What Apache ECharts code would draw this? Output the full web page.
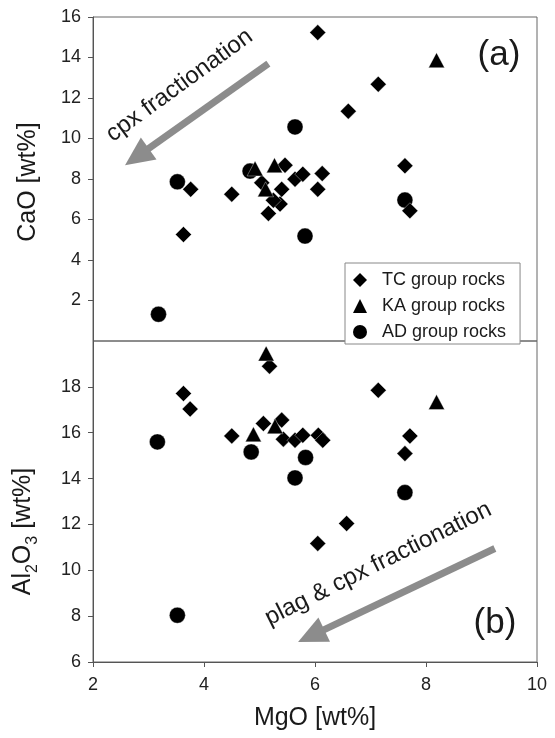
<!DOCTYPE html>
<html>
<head>
<meta charset="utf-8">
<script src="https://cdn.jsdelivr.net/npm/echarts@6/dist/echarts.min.js"></script>
<style>
  html, body { margin: 0; padding: 0; background: #fff; }
  #chart { width: 555px; height: 738px; }
</style>
</head>
<body>
<div id="chart"></div>
<script>
// ---- Panel (a): CaO vs MgO ----
const tcMgO_a  = [6.05, 6.6, 3.76, 3.63, 4.5, 5.46, 5.4, 5.37, 5.16, 5.64, 5.78, 6.13, 6.05, 7.14, 7.62, 7.71, 5.04, 5.25];
const tcCaO    = [15.23, 11.35, 7.49, 5.26, 7.25, 8.68, 7.49, 6.76, 6.3, 7.99, 8.24, 8.27, 7.49, 12.68, 8.65, 6.43, 7.81, 6.95];
const kaMgO_a  = [4.92, 5.27, 5.11, 8.19];
const kaCaO    = [8.52, 8.68, 7.49, 13.87];
const adMgO_a  = [4.83, 5.64, 3.52, 5.82, 3.18, 7.62];
const adCaO    = [8.39, 10.57, 7.86, 5.18, 1.32, 6.96];

// ---- Panel (b): Al2O3 vs MgO ----
const tcMgO_b  = [5.18, 3.63, 3.75, 4.5, 5.07, 5.4, 5.43, 5.64, 5.78, 6.06, 6.14, 6.57, 6.05, 7.14, 7.71, 7.62];
const tcAl2O3  = [18.9, 17.71, 17.03, 15.86, 16.4, 16.55, 15.72, 15.67, 15.89, 15.89, 15.67, 12.04, 11.17, 17.85, 15.86, 15.09];
const kaMgO_b  = [5.12, 4.89, 5.28, 8.19];
const kaAl2O3  = [19.46, 15.93, 16.28, 17.34];
const adMgO_b  = [3.16, 4.85, 5.83, 5.64, 3.52, 7.62];
const adAl2O3  = [15.6, 15.16, 14.92, 14.03, 8.04, 13.39];

// Axis ranges and tick steps
const xRange  = [2, 10, 2];
const caRange = [0, 16, 2];
const alRange = [6, 20, 2];

// Fractionation trend arrows: [tail, head] in data units
const cpxArrow  = [[5.16, 13.70], [2.79, 9.09]];
const plagArrow = [[9.24, 10.95], [5.93, 7.14]];
const cpxLabel  = { text: 'cpx fractionation', at: [3.56, 12.62], angle: 36 };
const plagLabel = { text: 'plag & cpx fractionation', at: [7.14, 10.28], angle: 26.5 };

const groupNames = ['TC group rocks', 'KA group rocks', 'AD group rocks'];

const FONT = 'Liberation Sans, Arial, Helvetica, sans-serif';
const INK = '#1a1a1a';
const AXIS = '#555';

const zip = (xs, ys) => xs.map((x, i) => [x, ys[i]]);

const mark = { color: '#000', opacity: 1, borderColor: 'rgba(255,255,255,0.6)', borderWidth: 0.6 };

function arrowLine(pair) {
  return {
    silent: true,
    symbol: ['none', 'triangle'],
    symbolSize: [27, 29],
    label: { show: false },
    lineStyle: { color: '#8c8c8c', width: 7, type: 'solid', opacity: 1 },
    itemStyle: { color: '#8c8c8c', opacity: 1 },
    emphasis: { disabled: true },
    data: [[{ coord: pair[0] }, { coord: pair[1] }]]
  };
}

function yAxisBase(range, grid) {
  return {
    type: 'value', gridIndex: grid,
    min: range[0], max: range[1], interval: range[2],
    splitLine: { show: false },
    axisLine: { show: true, lineStyle: { color: AXIS, width: 1 } },
    axisTick: { show: true, inside: false, length: 5, lineStyle: { color: AXIS } },
    axisLabel: { color: '#222', fontSize: 18, fontFamily: FONT, margin: 12 }
  };
}

const option = {
  animation: false,
  backgroundColor: '#fff',
  textStyle: { fontFamily: FONT },
  grid: [
    { left: 93, top: 17, width: 444, height: 324, show: true, borderColor: '#666', borderWidth: 1 },
    { left: 93, top: 341, width: 444, height: 321, show: true, borderColor: '#666', borderWidth: 1 }
  ],
  legend: {
    data: groupNames,
    orient: 'vertical',
    left: 345, top: 263,
    padding: [8, 14, 3, 8],
    itemGap: 8,
    itemWidth: 14, itemHeight: 14,
    borderColor: '#888', borderWidth: 1,
    backgroundColor: '#fff',
    selectedMode: false,
    itemStyle: { color: '#000', opacity: 1, borderWidth: 0 },
    textStyle: { fontSize: 18, color: INK, fontFamily: FONT, padding: [0, 0, 0, 10] },
    z: 10
  },
  xAxis: [
    {
      type: 'value', gridIndex: 0,
      min: xRange[0], max: xRange[1], interval: xRange[2],
      splitLine: { show: false },
      axisLine: { show: false }, axisTick: { show: false }, axisLabel: { show: false }
    },
    {
      type: 'value', gridIndex: 1,
      min: xRange[0], max: xRange[1], interval: xRange[2],
      splitLine: { show: false },
      axisLine: { show: true, onZero: false, lineStyle: { color: AXIS, width: 1 } },
      axisTick: { show: true, inside: false, length: 5, lineStyle: { color: AXIS } },
      axisLabel: { color: '#222', fontSize: 18, fontFamily: FONT, margin: 14 },
      name: 'MgO [wt%]', nameLocation: 'middle', nameGap: 44,
      nameTextStyle: { fontSize: 25, color: INK, fontFamily: FONT }
    }
  ],
  yAxis: [
    Object.assign(yAxisBase(caRange, 0), {
      axisLabel: { color: '#222', fontSize: 18, fontFamily: FONT, margin: 12, showMinLabel: false },
      name: 'CaO [wt%]', nameLocation: 'middle', nameGap: 52,
      nameTextStyle: { fontSize: 25, color: INK, fontFamily: FONT, padding: [0, 6, 0, 0] }
    }),
    Object.assign(yAxisBase(alRange, 1), {
      axisLabel: { color: '#222', fontSize: 18, fontFamily: FONT, margin: 12, showMaxLabel: false },
      name: '{m|Al}{s|2}{m|O}{s|3}{m| [wt%]}', nameLocation: 'middle', nameGap: 52,
      nameTextStyle: {
        color: INK, fontFamily: FONT, padding: [0, 60, 0, 0],
        rich: {
          m: { fontSize: 25, color: INK, fontFamily: FONT, verticalAlign: 'bottom', padding: [0, 0, 5, 0] },
          s: { fontSize: 16, color: INK, fontFamily: FONT, verticalAlign: 'bottom', padding: [0, 0, 0, 0] }
        }
      }
    })
  ],
  series: [
    { name: groupNames[2], type: 'scatter', xAxisIndex: 0, yAxisIndex: 0, symbol: 'circle', symbolSize: 16,
      itemStyle: mark, data: zip(adMgO_a, adCaO), z: 2, markLine: arrowLine(cpxArrow) },
    { name: groupNames[0], type: 'scatter', xAxisIndex: 0, yAxisIndex: 0, symbol: 'diamond', symbolSize: 16,
      itemStyle: mark, data: zip(tcMgO_a, tcCaO), z: 3 },
    { name: groupNames[1], type: 'scatter', xAxisIndex: 0, yAxisIndex: 0, symbol: 'triangle', symbolSize: [16, 15],
      itemStyle: mark, data: zip(kaMgO_a, kaCaO), z: 4 },

    { name: groupNames[2], type: 'scatter', xAxisIndex: 1, yAxisIndex: 1, symbol: 'circle', symbolSize: 16,
      itemStyle: mark, data: zip(adMgO_b, adAl2O3), z: 2, markLine: arrowLine(plagArrow) },
    { name: groupNames[0], type: 'scatter', xAxisIndex: 1, yAxisIndex: 1, symbol: 'diamond', symbolSize: 16,
      itemStyle: mark, data: zip(tcMgO_b, tcAl2O3), z: 3 },
    { name: groupNames[1], type: 'scatter', xAxisIndex: 1, yAxisIndex: 1, symbol: 'triangle', symbolSize: [16, 15],
      itemStyle: mark, data: zip(kaMgO_b, kaAl2O3), z: 4 }
  ]
};

const chart = echarts.init(document.getElementById('chart'), null, { renderer: 'canvas' });
chart.setOption(option);

// Panel letters and rotated trend captions, anchored in data space
function caption(lbl, grid) {
  const p = chart.convertToPixel({ gridIndex: grid }, lbl.at);
  return {
    type: 'text', x: p[0], y: p[1], rotation: lbl.angle * Math.PI / 180, z: 20,
    style: { text: lbl.text, fill: INK, font: '24px ' + FONT, align: 'center', verticalAlign: 'middle' }
  };
}
chart.setOption({
  graphic: [
    caption(cpxLabel, 0),
    caption(plagLabel, 1),
    { type: 'text', x: 499, y: 55, z: 20,
      style: { text: '(a)', fill: INK, font: '35px ' + FONT, align: 'center', verticalAlign: 'middle' } },
    { type: 'text', x: 495, y: 623, z: 20,
      style: { text: '(b)', fill: INK, font: '35px ' + FONT, align: 'center', verticalAlign: 'middle' } }
  ]
});
</script>
</body>
</html>
